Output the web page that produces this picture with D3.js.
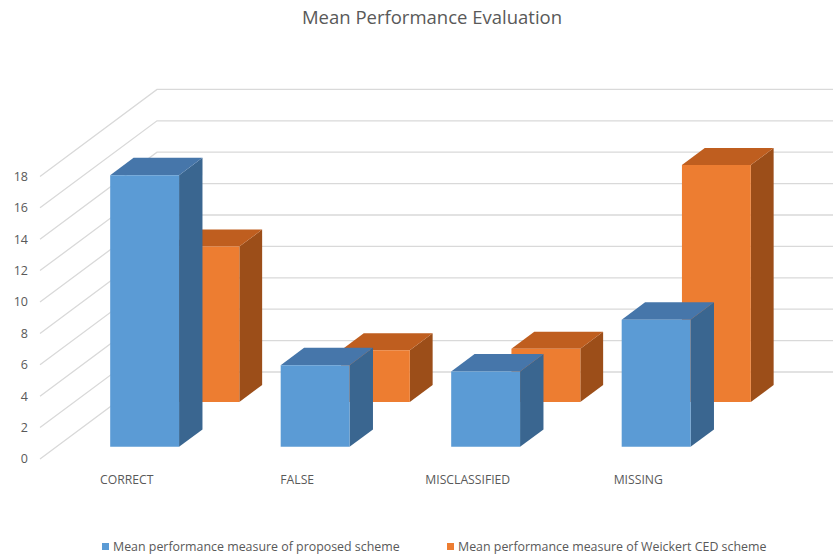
<!DOCTYPE html>
<html>
<head>
<meta charset="utf-8">
<script src="https://cdn.jsdelivr.net/npm/d3@7"></script>
<style>
  html, body { margin: 0; padding: 0; background: #fff; }
  svg { display: block; font-family: "Open Sans", "Liberation Sans", sans-serif; }
</style>
</head>
<body>
<svg id="chart" width="833" height="557"></svg>
<script>
// Chart data
const categories = ["CORRECT", "FALSE", "MISCLASSIFIED", "MISSING"];
const proposed = [17.3, 5.2, 4.8, 8.1];
const weickert = [9.9, 3.3, 3.4, 15.1];
const yTicks = [0, 2, 4, 6, 8, 10, 12, 14, 16, 18];
const seriesNames = [
  "Mean performance measure of proposed scheme",
  "Mean performance measure of Weickert CED scheme"
];
const title = "Mean Performance Evaluation";

const W = 833, H = 557;
const svg = d3.select("#chart");

// Oblique 3-D projection: x across, value up, depth (0 = front, 1 = back wall)
const baseY = 459;          // screen y of value 0 at the front edge
const depthDX = 117, depthDY = 87;
const x = d3.scaleBand().domain(categories).range([43, 725])
  .paddingInner(0.596).paddingOuter(0.298);
const y = d3.scaleLinear().domain([0, 18]).range([0, 282.6]);
const wallX = 40;

function proj(px, v, zz) {
  return [px + zz * depthDX, baseY - y(v) - zz * depthDY];
}

// Gridlines: left side wall diagonal, then back wall horizontal
const grid = svg.append("g");
yTicks.forEach(t => {
  const a = proj(wallX, t, 0), b = proj(wallX, t, 1);
  grid.append("polyline")
    .attr("points", [a, b, [W, b[1]]].map(p => p.join(",")).join(" "))
    .attr("fill", "none")
    .attr("stroke", "#d9d9d9")
    .attr("stroke-width", 1.3);
});

// Value axis labels
svg.append("g").selectAll("text").data(yTicks).join("text")
  .attr("x", 28)
  .attr("y", d => proj(wallX, d, 0)[1])
  .attr("dy", "0.35em")
  .attr("text-anchor", "end")
  .attr("font-size", 12.5)
  .attr("fill", "#595959")
  .text(d => d);

// Series rows (back row drawn first)
const rows = [
  { values: weickert, z0: 0.655, z1: 0.85, front: "#ED7D31", top: "#BF5E1F", side: "#9C4E19" },
  { values: proposed, z0: 0.14, z1: 0.34, front: "#5B9BD5", top: "#4676AA", side: "#3A6690" }
];

const pts = arr => arr.map(p => p.join(",")).join(" ");

rows.forEach(row => {
  const g = svg.append("g");
  categories.forEach((c, i) => {
    const v = row.values[i];
    const w = x.bandwidth();
    const a = x(c), b = a + w;
    const { z0, z1 } = row;
    // right side face
    g.append("polygon")
      .attr("points", pts([proj(b, 0, z0), proj(b, 0, z1), proj(b, v, z1), proj(b, v, z0)]))
      .attr("fill", row.side);
    // top face
    g.append("polygon")
      .attr("points", pts([proj(a, v, z0), proj(b, v, z0), proj(b, v, z1), proj(a, v, z1)]))
      .attr("fill", row.top);
    // front face
    g.append("polygon")
      .attr("points", pts([proj(a, 0, z0), proj(b, 0, z0), proj(b, v, z0), proj(a, v, z0)]))
      .attr("fill", row.front);
  });
});

// Category labels along the front edge
svg.append("g").selectAll("text").data(categories).join("text")
  .attr("x", d => x(d) + x.bandwidth() / 2 - 1.5)
  .attr("y", 480)
  .attr("dy", "0.35em")
  .attr("text-anchor", "middle")
  .attr("font-size", 12.2)
  .attr("fill", "#595959")
  .text(d => d);

// Title
svg.append("text")
  .attr("x", 432)
  .attr("y", 18)
  .attr("dy", "0.35em")
  .attr("text-anchor", "middle")
  .attr("font-size", 18.5)
  .attr("fill", "#595959")
  .text(title);

// Legend
const legendX = [102, 447];
const legendColors = ["#5B9BD5", "#ED7D31"];
const lg = svg.append("g");
seriesNames.forEach((name, i) => {
  lg.append("rect")
    .attr("x", legendX[i]).attr("y", 543)
    .attr("width", 7).attr("height", 7)
    .attr("fill", legendColors[i]);
  lg.append("text")
    .attr("x", legendX[i] + 11)
    .attr("y", 547)
    .attr("dy", "0.35em")
    .attr("font-size", 12.4)
    .attr("fill", "#595959")
    .text(name);
});
</script>
</body>
</html>
